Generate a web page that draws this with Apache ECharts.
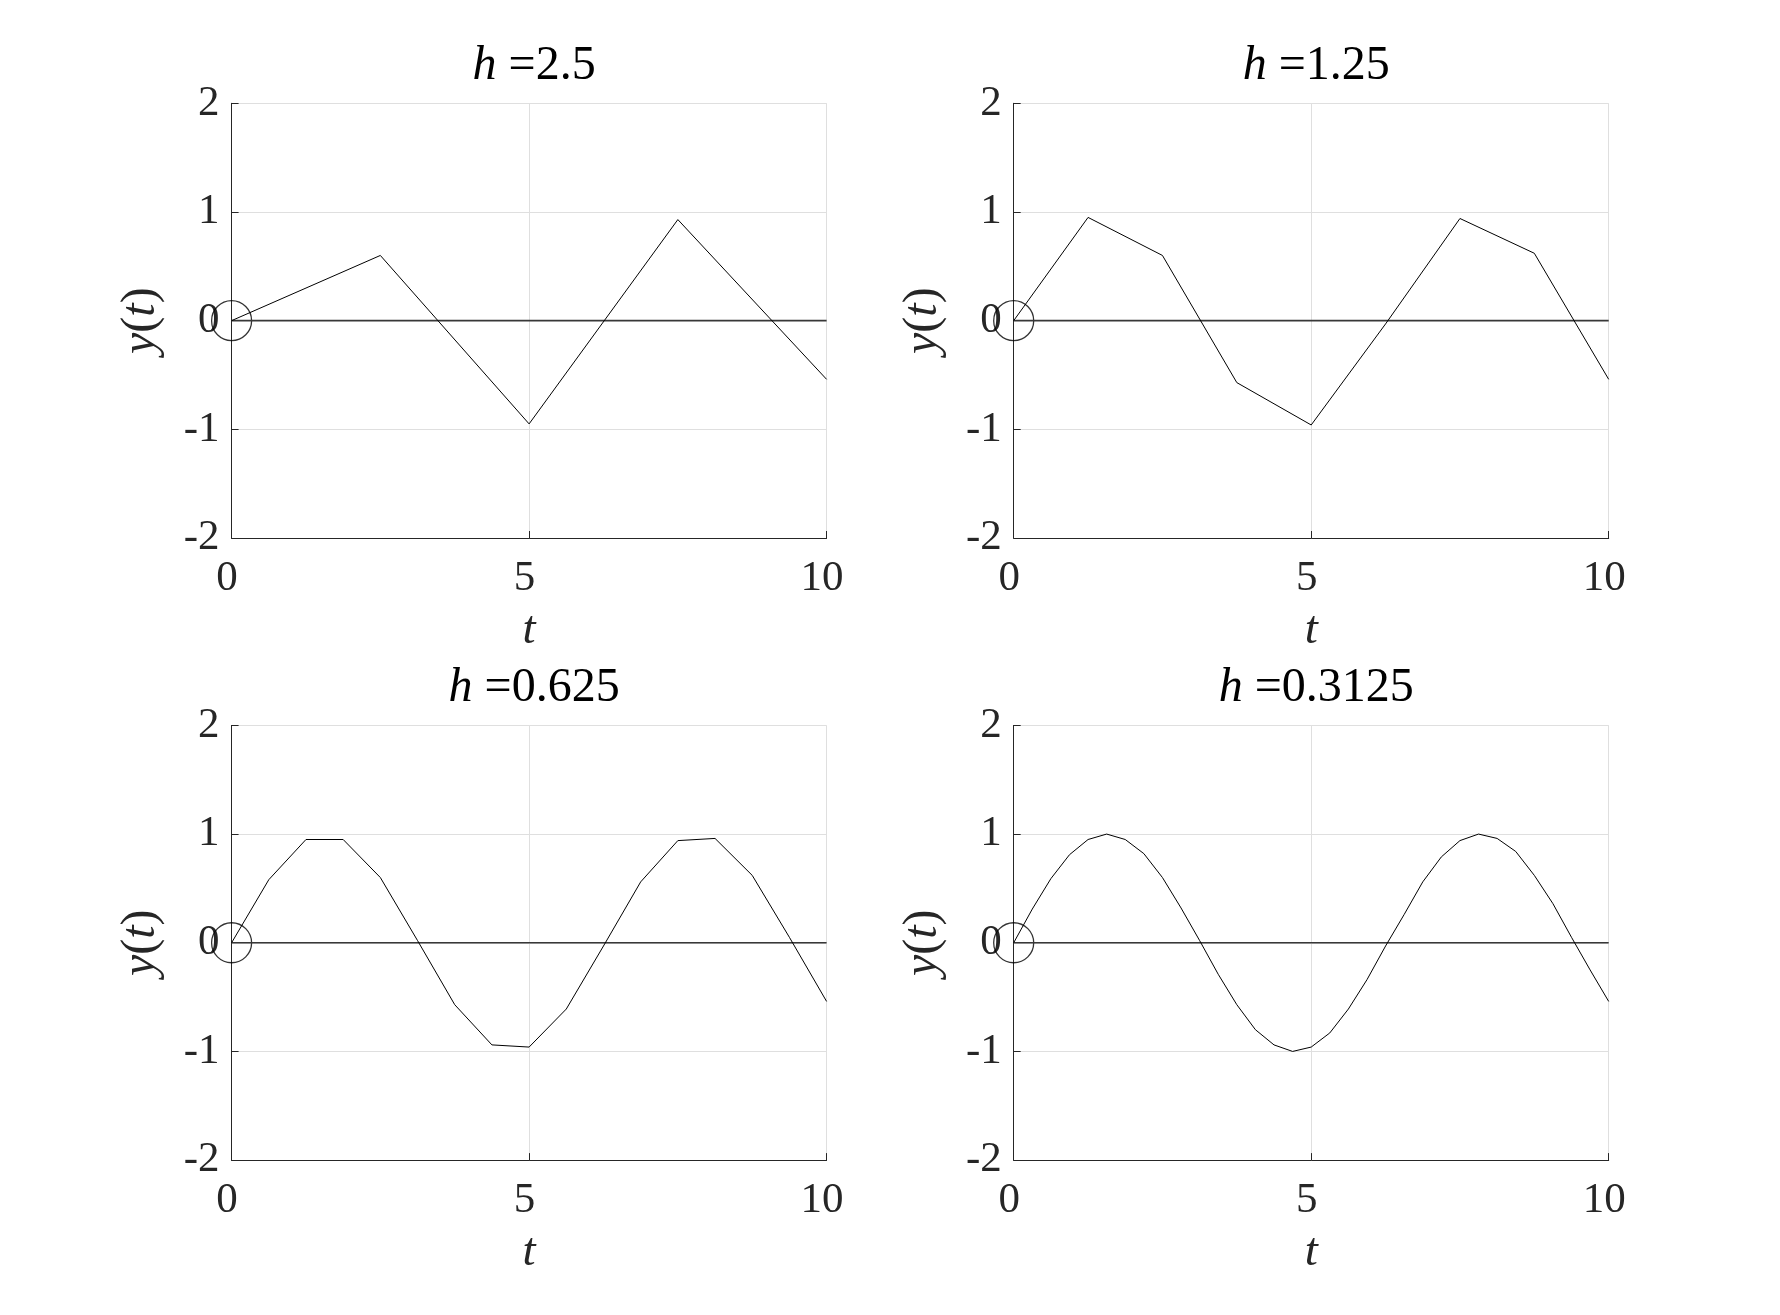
<!DOCTYPE html>
<html>
<head>
<meta charset="utf-8">
<script src="https://cdn.jsdelivr.net/npm/echarts@6/dist/echarts.min.js"></script>
<style>
html,body{margin:0;padding:0;background:#fff;}
#chart{width:1780px;height:1315px;}
</style>
</head>
<body>
<div id="chart"></div>
<script>
// ---- data ----
const hValues = ['2.5', '1.25', '0.625', '0.3125'];
const xTicks = [0, 5, 10];
const yTicks = [-2, -1, 0, 1, 2];

const t1 = [0, 2.5, 5, 7.5, 10];
const y1 = [0, 0.60, -0.95, 0.93, -0.54];

const t2 = [0, 1.25, 2.5, 3.75, 5, 6.25, 7.5, 8.75, 10];
const y2 = [0, 0.95, 0.60, -0.57, -0.96, -0.03, 0.94, 0.62, -0.54];

const t3 = [0, 0.625, 1.25, 1.875, 2.5, 3.125, 3.75, 4.375, 5, 5.625, 6.25, 6.875, 7.5, 8.125, 8.75, 9.375, 10];
const y3 = [0, 0.58, 0.95, 0.95, 0.60, 0.02, -0.57, -0.94, -0.96, -0.61, -0.03, 0.56, 0.94, 0.96, 0.62, 0.05, -0.54];

const t4 = [0, 0.3125, 0.625, 0.9375, 1.25, 1.5625, 1.875, 2.1875, 2.5, 2.8125, 3.125, 3.4375, 3.75, 4.0625, 4.375, 4.6875, 5,
            5.3125, 5.625, 5.9375, 6.25, 6.5625, 6.875, 7.1875, 7.5, 7.8125, 8.125, 8.4375, 8.75, 9.0625, 9.375, 9.6875, 10];
const y4 = [0, 0.31, 0.59, 0.81, 0.95, 1.00, 0.95, 0.82, 0.60, 0.32, 0.02, -0.29, -0.57, -0.80, -0.94, -1.00, -0.96,
            -0.83, -0.61, -0.34, -0.03, 0.26, 0.56, 0.79, 0.94, 1.00, 0.96, 0.84, 0.62, 0.36, 0.05, -0.25, -0.54];

const zeroT = [0, 10];
const zeroY = [0, 0];
const startPoint = [0, 0];

// ---- layout ----
const T = [t1, t2, t3, t4];
const Y = [y1, y2, y3, y4];
const lefts = [231.6, 1013.7, 231.6, 1013.7];
const tops = [103.3, 103.3, 725.4, 725.4];
const W = 595, H = 434.7;
const FONT = '"Liberation Serif", "Times New Roman", serif';
const AX = '#262626';

const grids = [], xAxes = [], yAxes = [], series = [], titles = [];
for (let i = 0; i < 4; i++) {
  grids.push({left: lefts[i], top: tops[i], width: W, height: H, containLabel: false});
  titles.push({
    text: '{i|h} =' + hValues[i],
    left: lefts[i] + W / 2,
    top: tops[i] - 66,
    textAlign: 'center',
    textStyle: {
      fontFamily: FONT, fontSize: 48, fontWeight: 'normal', color: '#000',
      rich: {i: {fontFamily: FONT, fontSize: 48, fontStyle: 'italic', color: '#000'}}
    }
  });
  xAxes.push({
    type: 'value', gridIndex: i, min: xTicks[0], max: xTicks[xTicks.length - 1],
    interval: xTicks[1] - xTicks[0],
    name: '{i|t}', nameLocation: 'middle', nameGap: 69,
    nameTextStyle: {fontFamily: FONT, fontSize: 47, color: AX,
      rich: {i: {fontFamily: FONT, fontSize: 47, fontStyle: 'italic', color: AX}}},
    axisLine: {show: true, onZero: false, lineStyle: {color: AX, width: 1}},
    axisTick: {show: true, inside: true, length: 7, lineStyle: {color: AX}},
    axisLabel: {fontFamily: FONT, fontSize: 43, color: AX, margin: 19, padding: [0, 9, 0, 0]},
    splitLine: {show: true, lineStyle: {color: '#dfdfdf', width: 1}}
  });
  yAxes.push({
    type: 'value', gridIndex: i, min: yTicks[0], max: yTicks[yTicks.length - 1],
    interval: yTicks[1] - yTicks[0],
    name: '{i|y}({i|t})', nameLocation: 'middle', nameGap: 66,
    nameTextStyle: {fontFamily: FONT, fontSize: 48, color: AX,
      rich: {i: {fontFamily: FONT, fontSize: 48, fontStyle: 'italic', color: AX}}},
    axisLine: {show: true, onZero: false, lineStyle: {color: AX, width: 1}},
    axisTick: {show: true, inside: true, length: 7, lineStyle: {color: AX}},
    axisLabel: {fontFamily: FONT, fontSize: 43, color: AX, margin: 12, padding: [8, 0, 0, 0],
      formatter: v => String(v)},
    splitLine: {show: true, lineStyle: {color: '#dfdfdf', width: 1}}
  });
  series.push({
    type: 'line', xAxisIndex: i, yAxisIndex: i,
    data: zeroT.map((t, k) => [t, zeroY[k]]),
    showSymbol: false, symbol: 'none', silent: true,
    lineStyle: {color: '#383838', width: 1.6}
  });
  series.push({
    type: 'line', xAxisIndex: i, yAxisIndex: i,
    data: T[i].map((t, k) => [t, Y[i][k]]),
    showSymbol: false, symbol: 'none', silent: true,
    lineStyle: {color: '#000', width: 1}
  });
  series.push({
    type: 'scatter', xAxisIndex: i, yAxisIndex: i,
    data: [startPoint], symbol: 'circle', symbolSize: 40, clip: false, silent: true,
    itemStyle: {color: 'rgba(0,0,0,0)', borderColor: '#000', borderWidth: 1.3}
  });
}

const chart = echarts.init(document.getElementById('chart'), null, {renderer: 'canvas'});
chart.setOption({
  animation: false,
  backgroundColor: '#fff',
  title: titles,
  grid: grids,
  xAxis: xAxes,
  yAxis: yAxes,
  series: series
});
</script>
</body>
</html>
